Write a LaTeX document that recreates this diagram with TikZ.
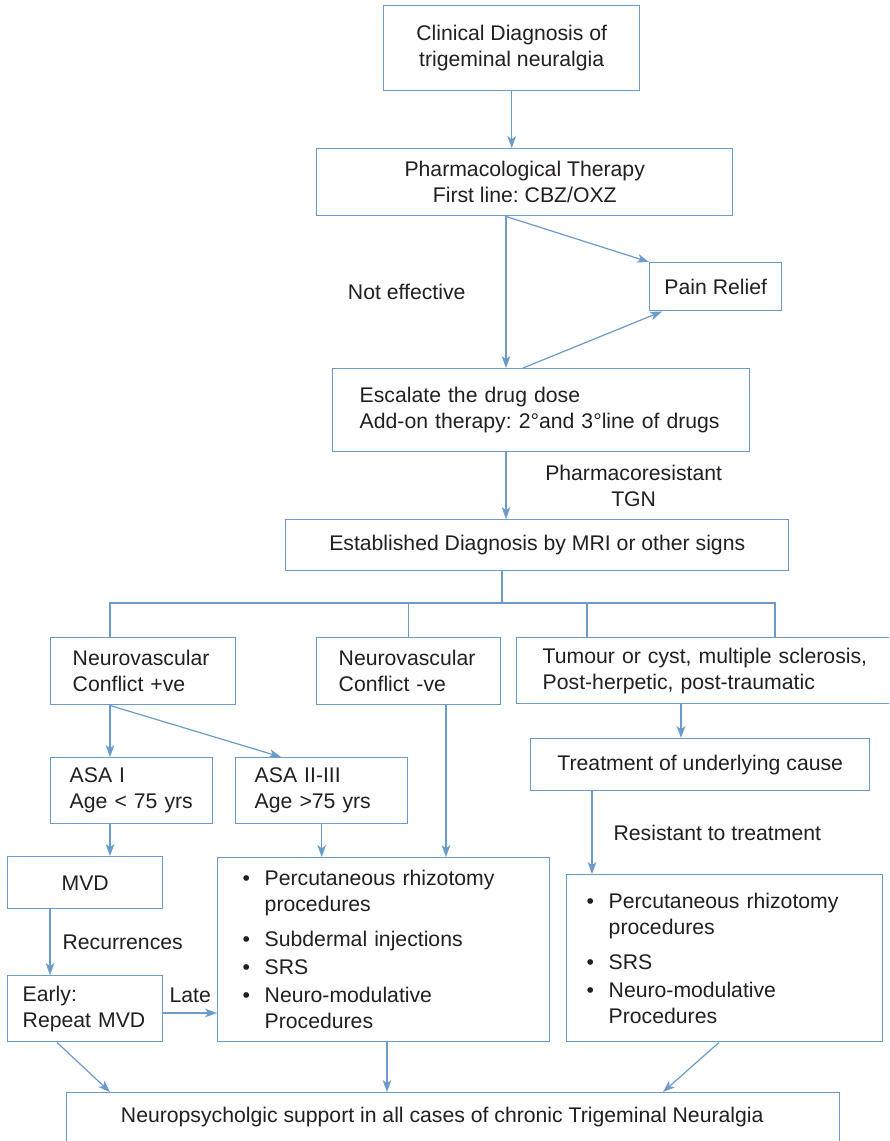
\documentclass[tikz,border=0pt]{standalone}
\usepackage{fontspec}
\setmainfont{Liberation Sans}
\usepackage{xcolor}
\usetikzlibrary{arrows.meta, positioning, calc}
\definecolor{flowblue}{HTML}{6A9BC9}
\definecolor{inkgray}{HTML}{231F20}

\newcommand{\bitem}[1]{\makebox[16.5pt][l]{\textbullet}#1}
\newcommand{\bcont}[1]{\hspace*{16.5pt}#1}

\begin{document}
\begin{tikzpicture}[
    x=0.75pt, y=-0.75pt,
    every node/.style={font=\fontsize{15.9}{19.5}\selectfont\frenchspacing, text=inkgray},
    box/.style={draw=flowblue, line width=1.1pt, anchor=north west, inner sep=0pt},
    boxsize/.style 2 args={minimum width=#1*0.75pt, minimum height=#2*0.75pt, align=center},
    lbox/.code n args={3}{\pgfmathsetmacro\boxtw{(#1-2*#3)*0.75}%
        \tikzset{align=left, text width=\boxtw pt, inner xsep=#3*0.75pt, minimum height=#2*0.75pt}},
    arrow/.style={-{Stealth[length=9pt, width=6.5pt, inset=2.5pt]}, line width=0.9pt, color=flowblue},
    link/.style={line width=0.9pt, color=flowblue},
    tag/.style={inner sep=0pt}
]
\useasboundingbox (0,0) rectangle (889,1141);
\fill[white] (0,0) rectangle (889,1141);
\clip (0,0) rectangle (889,1141);

\node (clin) [box, boxsize={256}{85}] at (383,5) {Clinical Diagnosis of\\trigeminal neuralgia};
\node (pharm) [box, boxsize={416}{67}] at (316,148) {Pharmacological Therapy\\First line: CBZ/OXZ};
\node (pain) [box, boxsize={132}{48}] at (649,262) {Pain Relief};
\node (esc) [box, lbox={417}{83}{27}] at (332,368) {Escalate the drug dose\\Add-on therapy: 2°and 3°line of drugs};
\node (estab) [box, boxsize={503}{51}] at (285,519) {Established Diagnosis by MRI or other signs};
\node (nvp) [box, lbox={185}{67}{22}] at (50,637) {Neurovascular\\Conflict +ve};
\node (nvn) [box, lbox={184}{67}{22}] at (316,637) {Neurovascular\\Conflict -ve};
\node (tum) [box, lbox={400}{66}{26}] at (516,637) {Tumour or cyst, multiple sclerosis,\\Post-herpetic, post-traumatic};
\node (treat) [box, boxsize={339}{52}] at (530,738) {Treatment of underlying cause};
\node (asa1) [box, lbox={162}{66}{19}] at (50,757) {ASA I\\Age < 75 yrs};
\node (asa2) [box, lbox={172}{66}{19}] at (235,757) {ASA II-III\\Age >75 yrs};
\node (mvd) [box, boxsize={155}{52}] at (7,856) {MVD};
\node (early) [box, lbox={155}{66}{15}] at (7,975) {Early:\\Repeat MVD};
\node (percm) [box, lbox={332}{184}{25}] at (217,857) {\bitem{Percutaneous rhizotomy}\\\bcont{procedures}\\[6.5pt]\bitem{Subdermal injections}\\[1.5pt]\bitem{SRS}\\[1.5pt]\bitem{Neuro-modulative}\\\bcont{Procedures}};
\node (percr) [box, lbox={316}{167}{20}] at (566,874) {\bitem{Percutaneous rhizotomy}\\\bcont{procedures}\\[6.5pt]\bitem{SRS}\\[1.5pt]\bitem{Neuro-modulative}\\\bcont{Procedures}};
\node (support) [box, minimum width=773*0.75pt, text height=22.5pt, text depth=45pt] at (66,1092) {Neuropsycholgic support in all cases of chronic Trigeminal Neuralgia\hspace*{16.5pt}};

% top part
\draw[arrow] (clin.south) -- (clin.south |- pharm.north);
\draw[arrow] ($(pharm.south west)+(190,0)$) -- node[tag, anchor=east, xshift=-30pt] {Not effective} ($(esc.north west)+(174,0)$);
\draw[arrow] ($(pharm.south west)+(190,0)$) -- (pain.north west);
\draw[arrow] ($(esc.north west)+(191,0)$) -- ($(pain.south west)+(13,0)$);
\draw[arrow] ($(esc.south west)+(174,0)$) -- node[tag, anchor=west, xshift=29pt, align=center] {Pharmacoresistant\\TGN} ($(estab.north west)+(221,0)$);

% branching
\draw[link] ($(estab.south west)+(217,0)$) -- ++(0,33);
\draw[link] ($(nvp.north west)+(60,0)$) -- ++(0,-34) -| ($(tum.north west)+(259,0)$);
\draw[link] (nvn.north) -- ++(0,-34);
\draw[link] ($(tum.north west)+(71,0)$) -- ++(0,-34);

% left branch
\draw[arrow] ($(nvp.south west)+(60,0)$) -- ($(asa1.north west)+(60,0)$);
\draw[arrow] ($(nvp.south west)+(60,0)$) -- ($(asa2.north west)+(46,0)$);
\draw[arrow] ($(asa1.south west)+(60,0)$) -- ($(mvd.north west)+(103,0)$);
\draw[arrow] (asa2.south) -- (asa2.south |- percm.north);
\draw[arrow] ($(mvd.south west)+(43,0)$) -- node[tag, anchor=west, xshift=9pt] {Recurrences} ($(early.north west)+(43,0)$);
\draw[arrow] ($(early.north east)+(0,38)$) -- node[tag, anchor=south, yshift=7pt] {Late} ($(percm.north west)+(0,156)$);

% middle and right branch
\draw[arrow] ($(nvn.south west)+(130,0)$) -- ($(percm.north west)+(229,0)$);
\draw[arrow] ($(tum.south west)+(165,0)$) -- ($(treat.north west)+(151,0)$);
\draw[arrow] ($(treat.south west)+(62,0)$) -- node[tag, anchor=west, xshift=15.75pt] {Resistant to treatment} ($(percr.north west)+(26,0)$);

% to support
\draw[arrow] ($(early.south west)+(50,0)$) -- ($(support.north west)+(44,0)$);
\draw[arrow] ($(percm.south west)+(170,0)$) -- ($(support.north west)+(321,0)$);
\draw[arrow] ($(percr.south west)+(153,0)$) -- ($(support.north west)+(597,0)$);
\end{tikzpicture}
\end{document}
